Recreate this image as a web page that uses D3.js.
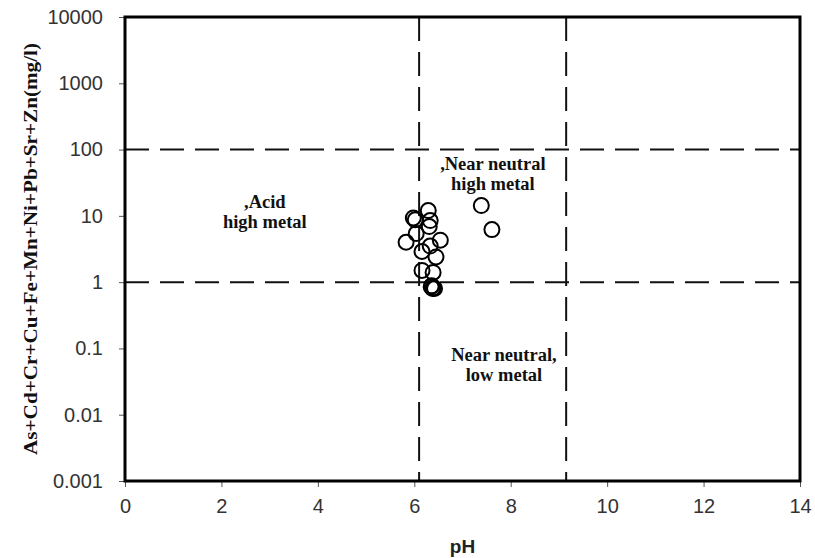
<!DOCTYPE html>
<html>
<head>
<meta charset="utf-8">
<script src="https://cdn.jsdelivr.net/npm/d3@7"></script>
<style>
  body { margin: 0; background: #fff; }
  .tick text { font-family: Arial, "Liberation Sans", sans-serif; font-size: 20px; fill: #333; }
  .tick line { stroke: #555; }
  .zone { font-family: "Times New Roman", "Liberation Serif", serif; font-weight: bold; font-size: 18.5px; fill: #111; }
</style>
</head>
<body>
<div class="container"></div>
<script>
// sample pH and summed metal concentration (mg/l)
var phValues    = [7.39, 7.61, 6.29, 5.98, 6.02, 6.33, 6.31, 6.04, 5.83, 6.54, 6.33, 6.16, 6.45, 6.16, 6.39, 6.35, 6.38, 6.40, 6.36, 6.42];
var metalValues = [14.3, 6.2, 12, 9.3, 8.7, 8.5, 6.9, 5.4, 4.0, 4.3, 3.5, 2.9, 2.4, 1.5, 1.4, 0.85, 0.8, 0.82, 0.88, 0.8];
var xTicks = [0, 2, 4, 6, 8, 10, 12, 14];
var yTicks = [0.001, 0.01, 0.1, 1, 10, 100, 1000, 10000];
var yTickLabels = ["0.001", "0.01", "0.1", "1", "10", "100", "1000", "10000"];
var phBounds = [6.1, 9.15];
var metalBounds = [1, 100];
var zoneLabels = [
  {lines: [",Acid", "high metal"], ph: 2.9, metal: 13.3},
  {lines: [",Near neutral", "high metal"], ph: 7.63, metal: 50},
  {lines: ["Near neutral,", "low metal"], ph: 7.86, metal: 0.064}
];

var loadChart = function(){
    var width = 815, height = 558;
    var margin = {left: 125, right: 15, top: 17, bottom: 77};

    var svg = d3.select('.container')
                .append('svg')
                .attr('width', width)
                .attr('height', height);

    var x = d3.scaleLinear().domain([0, 14]).range([margin.left, width - margin.right]);
    var y = d3.scaleLog().domain([0.001, 10000]).range([height - margin.bottom, margin.top]);

    var xAxis = svg.append('g')
        .attr('transform', 'translate(0,' + (height - margin.bottom) + ')')
        .call(d3.axisBottom(x).tickValues(xTicks).tickSize(6).tickPadding(12).tickFormat(d3.format('d')));
    xAxis.select('.domain').remove();

    var yAxis = svg.append('g')
        .attr('transform', 'translate(' + margin.left + ',0)')
        .call(d3.axisLeft(y).tickValues(yTicks).tickSize(6).tickPadding(16)
              .tickFormat(function(d, i){ return yTickLabels[i]; }));
    yAxis.select('.domain').remove();

    // dashed boundary lines
    svg.selectAll('line.vbound')
        .data(phBounds)
        .enter()
        .append('line')
        .attr('x1', function(d){ return x(d); })
        .attr('x2', function(d){ return x(d); })
        .attr('y1', y(10000))
        .attr('y2', y(0.001))
        .attr('stroke', '#111')
        .attr('stroke-width', 2)
        .attr('stroke-dasharray', '24,11');

    svg.selectAll('line.hbound')
        .data(metalBounds)
        .enter()
        .append('line')
        .attr('x1', x(0))
        .attr('x2', x(14))
        .attr('y1', function(d){ return y(d); })
        .attr('y2', function(d){ return y(d); })
        .attr('stroke', '#111')
        .attr('stroke-width', 2)
        .attr('stroke-dasharray', '24,11');

    // frame
    svg.append('rect')
        .attr('x', x(0))
        .attr('y', y(10000))
        .attr('width', x(14) - x(0))
        .attr('height', y(0.001) - y(10000))
        .attr('fill', 'none')
        .attr('stroke', '#000')
        .attr('stroke-width', 3);

    // points
    svg.selectAll('circle')
        .data(phValues)
        .enter()
        .append('circle')
        .attr('cx', function(d){ return x(d); })
        .attr('cy', function(d, i){ return y(metalValues[i]); })
        .attr('r', 7.5)
        .attr('fill', 'none')
        .attr('stroke', '#000')
        .attr('stroke-width', 2);

    // zone labels
    zoneLabels.forEach(function(z){
        var t = svg.append('text')
            .classed('zone', true)
            .attr('text-anchor', 'middle')
            .attr('x', x(z.ph))
            .attr('y', y(z.metal));
        z.lines.forEach(function(l, i){
            t.append('tspan')
                .attr('x', x(z.ph))
                .attr('dy', i === 0 ? 0 : 20)
                .text(l);
        });
    });

    svg.append('text')
        .attr('x', x(7))
        .attr('y', 553)
        .attr('text-anchor', 'middle')
        .attr('font-family', 'Arial, "Liberation Sans", sans-serif')
        .attr('font-weight', 'bold')
        .attr('font-size', 19)
        .attr('fill', '#222')
        .text('pH');

    svg.append('text')
        .attr('transform', 'translate(37,' + ((y(10000) + y(0.001)) / 2) + ') rotate(-90)')
        .attr('text-anchor', 'middle')
        .attr('font-family', '"Times New Roman", "Liberation Serif", serif')
        .attr('font-weight', 'bold')
        .attr('font-size', 18)
        .attr('textLength', 412)
        .attr('lengthAdjust', 'spacingAndGlyphs')
        .attr('fill', '#111')
        .text('As+Cd+Cr+Cu+Fe+Mn+Ni+Pb+Sr+Zn(mg/l)');
}
window.onload = loadChart;
</script>
</body>
</html>
